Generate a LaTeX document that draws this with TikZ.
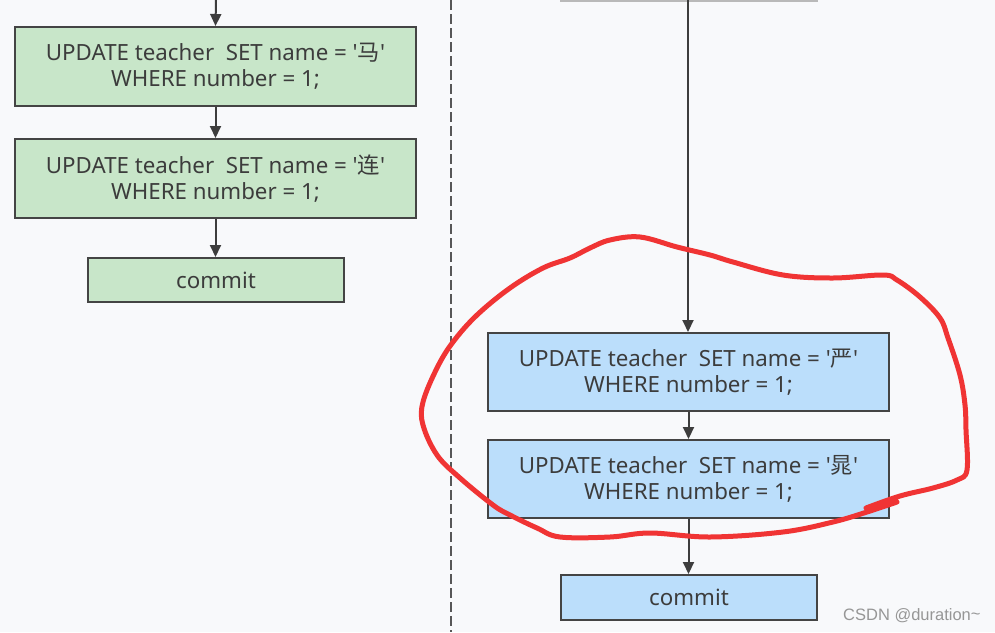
\documentclass[tikz,border=0pt]{standalone}
\usepackage{fontspec}
\setmainfont{Noto Sans}
\newfontfamily\cjkfont{Noto Sans CJK SC}
\newfontfamily\wmfont{Liberation Sans}
\newcommand{\sq}{\textquotesingle}
\newcommand{\zh}[1]{{\cjkfont #1}}
\usetikzlibrary{arrows.meta}
\definecolor{bgc}{RGB}{248,249,251}
\definecolor{greenf}{RGB}{200,230,201}
\definecolor{bluef}{RGB}{187,222,251}
\definecolor{edgec}{RGB}{68,68,68}
\definecolor{textc}{RGB}{60,60,60}
\definecolor{redc}{RGB}{240,52,52}
\definecolor{wmc}{RGB}{150,150,150}
\tikzset{
  sqlbox/.style={draw=edgec, line width=2pt, minimum width=401pt, minimum height=79pt, inner sep=0pt, align=center, text=textc, font=\fontsize{22.3}{26}\selectfont},
  greenbox/.style={sqlbox, fill=greenf},
  bluebox/.style={sqlbox, fill=bluef},
  commitbox/.style={minimum width=256pt, minimum height=44pt},
  flow/.style={draw=edgec!90!black, line width=2pt, -{Triangle[length=12pt,width=11pt]}},
}
\begin{document}
\begin{tikzpicture}[x=1pt,y=-1pt]
\fill[bgc] (0,0) rectangle (995,632);
\useasboundingbox (0,0) rectangle (995,632);
% dashed divider
\draw[edgec!90, line width=2pt, dash pattern=on 10pt off 4pt] (451,0) -- (451,632);
% cut-off box edge on top right
\draw[gray!55, line width=1.5pt] (560,0.75) -- (818,0.75);
% left column
\coordinate (ltop) at (216,0);
\node[greenbox] (g1) at (215.5,66.5) {UPDATE teacher\ \ SET name = \sq\zh{马}\sq\\WHERE number = 1;};
\node[greenbox] (g2) at (215.5,178.5) {UPDATE teacher\ \ SET name = \sq\zh{连}\sq\\WHERE number = 1;};
\node[greenbox, commitbox] (gc) at (216,280) {commit};
\draw[flow] (ltop) -- (g1.north);
\draw[flow] (g1) -- (g2);
\draw[flow] (g2.south) -- (g2.south |- gc.north);
% right column
\coordinate (rtop) at (688,0);
\node[bluebox, minimum height=78pt] (b1) at (688.5,372) {UPDATE teacher\ \ SET name = \sq\zh{严}\sq\\WHERE number = 1;};
\node[bluebox, minimum height=78pt] (b2) at (688.5,479) {UPDATE teacher\ \ SET name = \sq\zh{晁}\sq\\WHERE number = 1;};
\node[bluebox, commitbox, minimum height=45pt] (bc) at (689,597.5) {commit};
\draw[flow] (rtop) -- (rtop |- b1.north);
\draw[flow] (b1) -- (b2);
\draw[flow] (b2.south) -- (b2.south |- bc.north);
% watermark
\node[text=wmc, font=\wmfont\fontsize{16.5}{18}\selectfont, anchor=west, inner sep=0pt] (wm) at (843,616) {CSDN @duration\raisebox{0.1ex}{\textasciitilde}};
% red hand-drawn loop
\draw[redc, line width=5pt, line cap=round, line join=round] plot[smooth, tension=0.6] coordinates {
(866,508) (900,496) (933,488) (957,480) (967,470) (966,430) (965,405) (960,375) (948,338) (940,318) (920,297) (897,280) (883,275) (833,278) (783,275) (733,262) (710,255) (677,247) (640,237) (610,240) (590,248) (570,258) (543,268) (510,288) (477,315) (453,342) (437,368) (423,402) (423,425) (437,455) (460,478) (493,505) (510,515) (537,528) (560,537) (610,537) (650,533) (710,537) (783,532) (833,522) (867,512) (897,502)};
\end{tikzpicture}
\end{document}
